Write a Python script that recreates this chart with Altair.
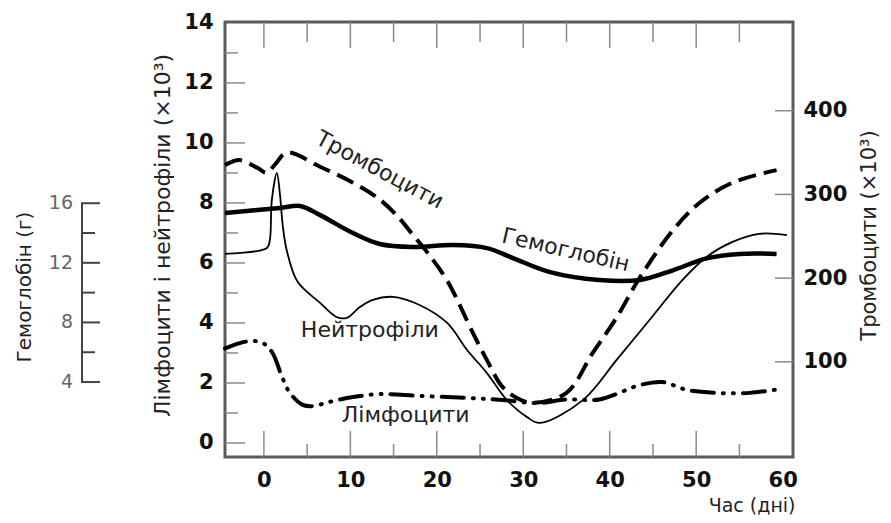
import altair as alt
import pandas as pd

# ---------------- data ----------------
plt_days = [-4.5, -2.8, -0.8, 0.35, 1.3, 2.66, 6.5, 10.3, 13.4, 15.7, 17.2, 18.8, 21.2, 24.2, 25.8, 27.6, 29.6, 31.1, 35.0, 38.0, 40.8, 43.5, 47.3, 50.4, 54.2, 59.3]
plt_vals = [335, 341, 332, 326, 336, 350, 333, 314, 294, 271, 252, 232, 197, 134, 102, 70, 55, 51, 63, 110, 153, 201, 257, 290, 314, 329]

hb_days = [-4.5, 1.85, 4.2, 6.5, 10.3, 13.4, 17.2, 21.9, 25.8, 28.8, 33.1, 38.8, 43.5, 47.3, 51.2, 55.0, 59.3]
hb_vals = [15.34, 15.68, 15.81, 15.2, 14.0, 13.26, 13.06, 13.19, 12.99, 12.32, 11.38, 10.85, 10.85, 11.5, 12.3, 12.6, 12.6]

neu_days = [-4.5, 0.35, 0.69, 0.92, 1.5, 1.85, 2.2, 2.66, 3.9, 6.5, 8.4, 9.6, 11.1, 12.6, 14.9, 18.0, 21.2, 23.5, 25.8, 28.1, 30.4, 31.9, 36.9, 40.8, 44.6, 48.4, 51.2, 54.2, 57.3, 60.5]
neu_vals = [6.3, 6.5, 6.77, 8.1, 9.0, 8.3, 7.2, 6.4, 5.37, 4.67, 4.2, 4.17, 4.53, 4.77, 4.87, 4.6, 4.0, 3.1, 2.33, 1.43, 0.87, 0.67, 1.43, 2.77, 4.1, 5.43, 6.2, 6.7, 6.97, 6.93]

lym_days = [-4.5, -2.8, -1.3, -0.1, 1.0, 2.1, 3.0, 4.5, 5.7, 7.6, 10.3, 13.4, 18.0, 23.8, 27.6, 31.6, 35.0, 38.8, 43.5, 46.1, 48.9, 52.4, 56.2, 59.7]
lym_vals = [3.15, 3.33, 3.4, 3.33, 3.0, 2.2, 1.67, 1.27, 1.23, 1.37, 1.53, 1.63, 1.57, 1.5, 1.43, 1.33, 1.45, 1.45, 1.93, 2.03, 1.77, 1.67, 1.67, 1.8]

x_ticks = [0, 10, 20, 30, 40, 50, 60]
x_major_inner = [0, 10, 20, 30, 40, 50]
x_minor_inner = [5, 15, 25, 35, 45, 55]
left_ticks = [0, 2, 4, 6, 8, 10, 12, 14]
left_minor = [1, 3, 5, 7, 9, 11, 13]
left_major_inner = [0, 2, 4, 6, 8, 10, 12]
right_ticks = [100, 200, 300, 400]
hb_ticks = [4, 8, 12, 16]
hb_minor = [6, 10, 14]

labels = [
    {"text": "Тромбоцити", "day": 13.4, "val": 9.1},
    {"text": "Гемоглобін", "day": 34.9, "val": 6.43},
    {"text": "Нейтрофіли", "day": 12.25, "val": 3.77},
    {"text": "Лімфоцити", "day": 16.4, "val": 0.93},
]

# ---------------- layout ----------------
W, H = 568, 435
X_DOM = [-4.5, 61.2]
Y_DOM = [-0.467, 14.03]
P_DOM = [-13.7, 506]
HB_DOM = [-1.03, 28.16]
FONT = "DejaVu Sans"
TICK_C = "#8a8a8a"
INTERP = "catmull-rom"


def ysc():
    return alt.Scale(domain=Y_DOM, nice=False, zero=False)


def psc():
    return alt.Scale(domain=P_DOM, nice=False, zero=False)


def hsc():
    return alt.Scale(domain=HB_DOM, nice=False, zero=False)


x_axis = alt.Axis(values=x_ticks, labelFont=FONT, labelFontSize=21, labelFontWeight="bold",
                  labelColor="#111", ticks=False, domain=False, grid=False,
                  labelPadding=12, labelFlush=False,
                  title="Час (дні)", titleFont=FONT, titleFontSize=19, titleFontWeight="normal",
                  titleColor="#222", titleX=W + 2, titleY=48, titleAlign="right", titleBaseline="middle")


def X(field):
    # identical x encoding (shared scale and shared axis) for every layer
    return alt.X(field, type="quantitative", scale=alt.Scale(domain=X_DOM, nice=False, zero=False),
                 axis=x_axis)


left_axis = alt.Axis(orient="left", values=left_ticks, labelFont=FONT, labelFontSize=21,
                     labelFontWeight="bold", labelColor="#111", ticks=False,
                     domain=False, grid=False, labelPadding=12, labelFlush=False,
                     title="Лімфоцити і нейтрофіли (×10³)", titleFont=FONT, titleFontSize=22,
                     titleFontWeight="normal", titleColor="#222", titleX=-63, titleY=213,
                     titleAngle=270, titleAlign="center", titleBaseline="middle")

right_axis = alt.Axis(orient="right", values=right_ticks, labelFont=FONT, labelFontSize=21,
                      labelFontWeight="bold", labelColor="#111", ticks=False,
                      domain=False, grid=False, labelPadding=10, labelFlush=False,
                      title="Тромбоцити (×10³)", titleFont=FONT, titleFontSize=21,
                      titleFontWeight="normal", titleColor="#222", titleX=76, titleY=213,
                      titleAngle=270, titleAlign="center", titleBaseline="middle")

df_plt = pd.DataFrame({"day": plt_days, "val": plt_vals})
df_hb = pd.DataFrame({"day": hb_days, "val": hb_vals})
df_neu = pd.DataFrame({"day": neu_days, "val": neu_vals})
df_lym = pd.DataFrame({"day": lym_days, "val": lym_vals})

layers = []

layers.append(alt.Chart(df_neu).mark_line(color="black", strokeWidth=1.8, interpolate=INTERP).encode(
    x=X("day"),
    y=alt.Y("val:Q", scale=ysc(), axis=left_axis),
))

layers.append(alt.Chart(df_plt).mark_line(color="black", strokeWidth=4, interpolate=INTERP,
                                          strokeDash=[18, 8]).encode(
    x=X("day"),
    y=alt.Y("val:Q", scale=psc(), axis=right_axis),
))

layers.append(alt.Chart(df_lym).mark_line(color="black", strokeWidth=4, interpolate=INTERP,
                                          strokeDash=[22, 9, 1, 9, 1, 9], strokeCap="round").encode(
    x=X("day"),
    y=alt.Y("val:Q", scale=ysc(), axis=None),
))

layers.append(alt.Chart(df_hb).mark_line(color="black", strokeWidth=4.5, interpolate=INTERP).encode(
    x=X("day"),
    y=alt.Y("val:Q", scale=hsc(), axis=None),
))

angles = {"Тромбоцити": 28, "Гемоглобін": 13, "Нейтрофіли": 0, "Лімфоцити": 0}
for lab in labels:
    layers.append(
        alt.Chart(pd.DataFrame([lab])).mark_text(font=FONT, fontSize=22, color="#222",
                                                 angle=angles[lab["text"]], align="center",
                                                 baseline="middle").encode(
            x=X("day"),
            y=alt.Y("val:Q", scale=ysc(), axis=None),
            text="text:N",
        )
    )

# inner frame ticks
layers.append(alt.Chart(pd.DataFrame({"v": left_major_inner})).mark_rule(color=TICK_C, strokeWidth=1.5).encode(
    y=alt.Y("v:Q", scale=ysc(), axis=None), x=alt.value(0), x2=alt.value(20)))
layers.append(alt.Chart(pd.DataFrame({"v": left_minor})).mark_rule(color=TICK_C, strokeWidth=1.5).encode(
    y=alt.Y("v:Q", scale=ysc(), axis=None), x=alt.value(0), x2=alt.value(13)))
layers.append(alt.Chart(pd.DataFrame({"p": right_ticks})).mark_rule(color=TICK_C, strokeWidth=1.5).encode(
    y=alt.Y("p:Q", scale=psc(), axis=None), x=alt.value(W), x2=alt.value(W - 18)))
layers.append(alt.Chart(pd.DataFrame({"d": x_major_inner})).mark_rule(color=TICK_C, strokeWidth=1.5).encode(
    x=X("d"), y=alt.value(0), y2=alt.value(26)))
layers.append(alt.Chart(pd.DataFrame({"d": x_minor_inner})).mark_rule(color=TICK_C, strokeWidth=1.5).encode(
    x=X("d"), y=alt.value(0), y2=alt.value(20)))
layers.append(alt.Chart(pd.DataFrame({"d": x_major_inner})).mark_rule(color=TICK_C, strokeWidth=1.5).encode(
    x=X("d"), y=alt.value(H), y2=alt.value(H - 26)))
layers.append(alt.Chart(pd.DataFrame({"d": x_minor_inner})).mark_rule(color=TICK_C, strokeWidth=1.5).encode(
    x=X("d"), y=alt.value(H), y2=alt.value(H - 13)))

# detached hemoglobin axis (drawn through the hemoglobin scale)
layers.append(alt.Chart(pd.DataFrame({"lo": [hb_ticks[0]], "hi": [hb_ticks[-1]]})).mark_rule(
    color="#444", strokeWidth=2).encode(
    x=alt.value(-143), y=alt.Y("lo:Q", scale=hsc(), axis=None), y2="hi:Q"))
layers.append(alt.Chart(pd.DataFrame({"g": hb_ticks})).mark_rule(color="#444", strokeWidth=2).encode(
    y=alt.Y("g:Q", scale=hsc(), axis=None), x=alt.value(-144), x2=alt.value(-125)))
layers.append(alt.Chart(pd.DataFrame({"g": hb_minor})).mark_rule(color="#444", strokeWidth=2).encode(
    y=alt.Y("g:Q", scale=hsc(), axis=None), x=alt.value(-144), x2=alt.value(-130)))
layers.append(alt.Chart(pd.DataFrame({"g": hb_ticks})).mark_text(
    font=FONT, fontSize=19, color="#666", align="right", baseline="middle").encode(
    y=alt.Y("g:Q", scale=hsc(), axis=None), x=alt.value(-152), text="g:Q"))
layers.append(alt.Chart(pd.DataFrame({"t": ["Гемоглобін (г)"]})).mark_text(
    font=FONT, fontSize=20, color="#222", angle=270, align="center", baseline="middle").encode(
    x=alt.value(-200), y=alt.value(265), text="t:N"))

chart = (
    alt.layer(*layers)
    .resolve_scale(y="independent")
    .resolve_axis(y="independent")
    .properties(
        width=W, height=H,
        autosize=alt.AutoSizeParams(type="none"),
        padding={"left": 217, "top": 14, "right": 90, "bottom": 58},
        background="white",
    )
    .configure_view(stroke="#5a5a5a", strokeWidth=3)
)

chart.save("out.html", embed_options={"renderer": "svg", "actions": False})
